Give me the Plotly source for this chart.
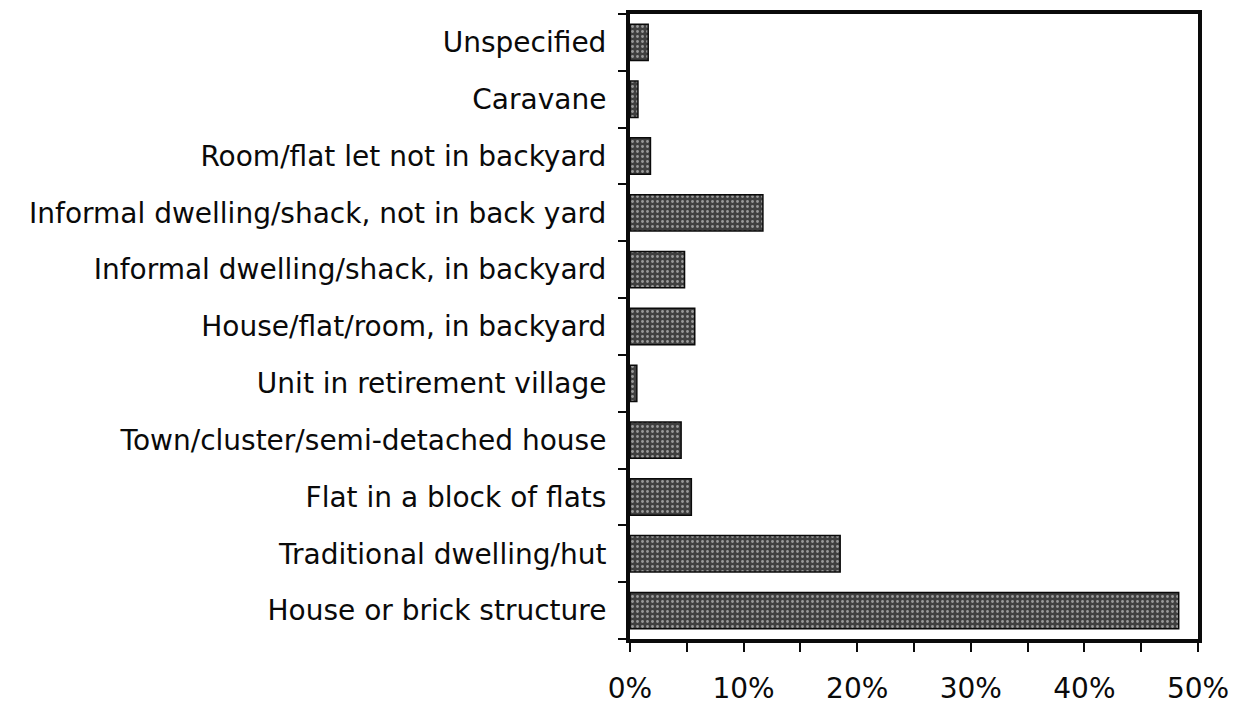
import plotly.graph_objects as go

# Categories listed bottom-to-top as drawn
categories = [
    "House or brick structure",
    "Traditional dwelling/hut",
    "Flat in a block of flats",
    "Town/cluster/semi-detached house",
    "Unit in retirement village",
    "House/flat/room, in backyard",
    "Informal dwelling/shack, in backyard",
    "Informal dwelling/shack, not in back yard",
    "Room/flat let not in backyard",
    "Caravane",
    "Unspecified",
]
values = [48.3, 18.5, 5.4, 4.5, 0.6, 5.7, 4.8, 11.7, 1.8, 0.7, 1.6]

x_tickvals = [0, 10, 20, 30, 40, 50]
x_ticktext = ["0%", "10%", "20%", "30%", "40%", "50%"]

fig = go.Figure(
    go.Bar(
        x=values,
        y=categories,
        orientation="h",
        marker=dict(
            color="#3f3f3f",
            line=dict(color="#0a0a0a", width=1.5),
            pattern=dict(shape=".", fgcolor="#9a9a9a", bgcolor="#3f3f3f",
                         size=5, solidity=0.25, fillmode="replace"),
        ),
        hoverinfo="x+y",
    )
)

fig.update_layout(
    width=1245,
    height=715,
    margin=dict(l=630, r=47, t=10, b=67),
    paper_bgcolor="white",
    plot_bgcolor="white",
    bargap=0.36,
    showlegend=False,
    font=dict(family="DejaVu Sans", color="#0a0a0a"),
)

fig.update_xaxes(
    range=[0, 50],
    tickvals=x_tickvals,
    ticktext=x_ticktext,
    ticks="outside",
    ticklen=9,
    tickwidth=2,
    tickcolor="#0a0a0a",
    minor=dict(dtick=5, ticks="outside", ticklen=9, tickwidth=2, tickcolor="#0a0a0a"),
    showgrid=False,
    zeroline=False,
    showline=True,
    linecolor="#0a0a0a",
    linewidth=4,
    mirror=True,
    tickfont=dict(family="DejaVu Sans", size=28, color="#0a0a0a"),
    ticklabelstandoff=12,
)

fig.update_yaxes(
    type="category",
    categoryorder="array",
    categoryarray=categories,
    tickson="boundaries",
    ticks="outside",
    ticklen=8,
    tickwidth=2,
    tickcolor="#0a0a0a",
    showgrid=False,
    zeroline=False,
    showline=True,
    linecolor="#0a0a0a",
    linewidth=4,
    mirror=True,
    tickfont=dict(family="DejaVu Sans", size=28, color="#0a0a0a"),
    ticklabelstandoff=14,
)

fig.write_html("out.html")
